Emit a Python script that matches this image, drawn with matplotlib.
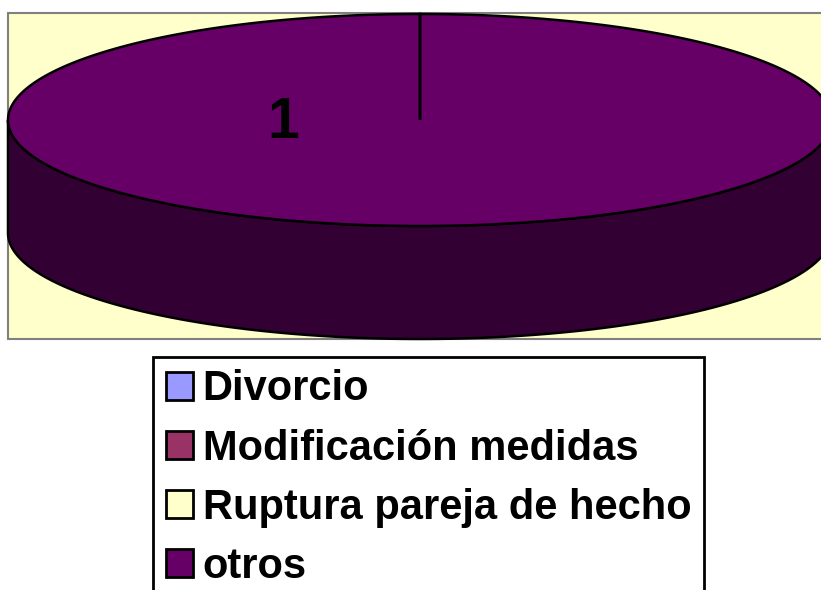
import numpy as np
import matplotlib.pyplot as plt
from matplotlib.patches import Polygon, Rectangle, Patch

# datos
categorias = ['Divorcio', 'Modificación medidas', 'Ruptura pareja de hecho', 'otros']
valores = [0, 0, 0, 1]
colores = ['#9999FF', '#993366', '#FFFFCC', '#660066']
colores_lado = ['#4C4C80', '#4C1933', '#808066', '#330033']

plt.rcParams['font.family'] = ['Liberation Sans', 'DejaVu Sans']

fig = plt.figure(figsize=(8.21, 5.90), dpi=100)
ax = fig.add_axes([0, 0, 1, 1])
ax.set_xlim(0, 821)
ax.set_ylim(590, 0)
ax.axis('off')

# area del grafico
ax.add_patch(Rectangle((8, 13), 840, 326, facecolor='#FFFFCC', edgecolor='#808080', lw=1.5))

# pastel 3D dibujado a mano
cx, cy, rx, ry, prof = 420, 120, 412, 106, 113
total = sum(valores)
inicio = 90.0
for val, col, col_lado in zip(valores, colores, colores_lado):
    if val == 0:
        continue
    barrido = 360.0 * val / total
    a = np.radians(np.linspace(inicio, inicio - barrido, 400))
    xs = cx + rx * np.cos(a)
    ys = cy - ry * np.sin(a)
    # pared lateral: solo la parte frontal (mitad inferior)
    frente = np.sin(a) <= 0
    if frente.any():
        xf, yf = xs[frente], ys[frente]
        orden = np.argsort(xf)
        xf, yf = xf[orden], yf[orden]
        lado = np.column_stack([np.r_[xf, xf[::-1]], np.r_[yf, yf[::-1] + prof]])
        ax.add_patch(Polygon(lado, closed=True, facecolor=col_lado, edgecolor='black', lw=1.8))
    tapa = np.column_stack([np.r_[cx, xs], np.r_[cy, ys]])
    ax.add_patch(Polygon(tapa, closed=True, facecolor=col, edgecolor='black', lw=1.8, joinstyle='miter'))
    inicio -= barrido

# etiqueta de valor
ax.text(283, 123, str(valores[-1]), fontsize=41, fontweight='bold', ha='center', va='center', color='black')

# leyenda
handles = [Patch(facecolor=c, edgecolor='black', lw=2) for c in colores]
leg = fig.legend(handles, categorias, loc='upper left', bbox_to_anchor=(153 / 821, 1 - 357 / 590),
                 prop={'size': 30, 'weight': 'bold'}, frameon=True, fancybox=False, framealpha=1,
                 handlelength=0.65, handleheight=0.65, handletextpad=0.24, labelspacing=0.46,
                 borderpad=0.3, borderaxespad=0)
leg.get_frame().set_edgecolor('black')
leg.get_frame().set_linewidth(2)

fig.savefig('out.png', dpi=100)
